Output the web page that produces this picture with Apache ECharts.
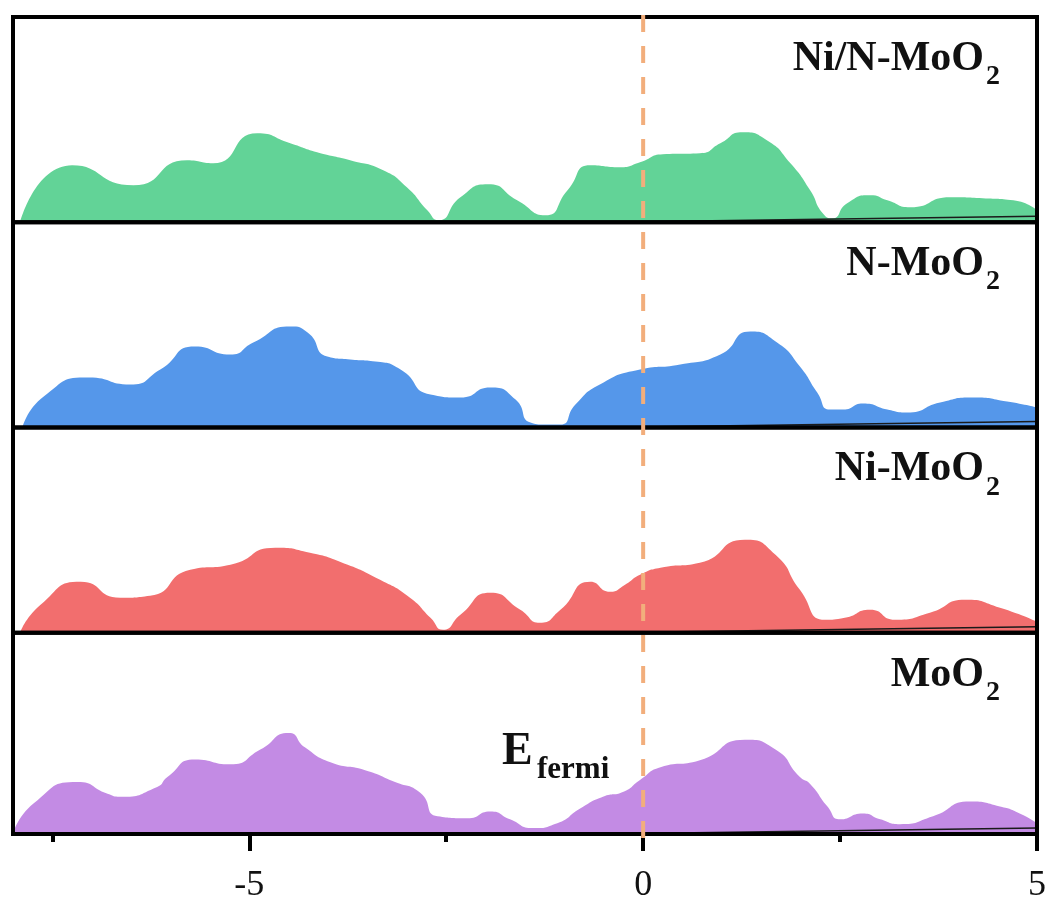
<!DOCTYPE html>
<html>
<head>
<meta charset="utf-8">
<script src="https://cdn.jsdelivr.net/npm/echarts@6/dist/echarts.min.js"></script>
<style>html,body{margin:0;padding:0;background:#fff;}#c{width:1051px;height:904px;}</style>
</head>
<body>
<div id="c"></div>
<script>
// Energy (eV) and DOS values (arbitrary units) for each system
const niNMoO2 = [[-7.91,0],[-7.25,57],[-6.47,37],[-5.79,62],[-5.46,59],[-4.90,89],[-4.48,79],[-4.14,70],[-3.72,62],[-3.30,52],[-3.00,35],[-2.74,12],[-2.60,2],[-2.32,25],[-1.97,38],[-1.60,22],[-1.24,7],[-0.96,32],[-0.67,57],[-0.29,55],[-0.04,60],[0.25,68],[0.72,69],[0.98,79],[1.26,90],[1.57,82],[1.87,59],[2.12,32],[2.28,9],[2.40,4],[2.59,19],[2.88,27],[3.10,22],[3.39,15],[3.90,25],[4.31,24],[4.70,22],[5.0,12]];
const nMoO2 = [[-7.88,0],[-7.61,31],[-7.04,50],[-6.51,43],[-6.13,58],[-5.69,81],[-5.24,73],[-4.95,85],[-4.48,101],[-4.26,95],[-4.01,71],[-3.72,68],[-3.40,66],[-3.08,58],[-2.70,33],[-2.32,30],[-1.94,40],[-1.62,28],[-1.43,5],[-1.24,3],[-1.05,3],[-0.86,23],[-0.55,43],[-0.04,58],[0.47,63],[0.98,73],[1.36,96],[1.70,85],[1.99,61],[2.21,35],[2.37,18],[2.54,18],[2.79,24],[3.10,18],[3.35,15],[3.77,25],[4.19,30],[4.62,26],[5.0,20]];
const niMoO2 = [[-7.91,0],[-7.65,28],[-7.14,51],[-6.64,35],[-6.26,37],[-5.75,63],[-5.24,68],[-4.67,85],[-4.23,80],[-3.85,71],[-3.34,53],[-2.96,35],[-2.70,15],[-2.54,3],[-2.32,18],[-1.94,40],[-1.56,23],[-1.31,10],[-1.05,23],[-0.67,51],[-0.42,41],[-0.23,48],[-0.04,58],[0.22,65],[0.72,70],[1.29,93],[1.68,78],[1.99,43],[2.31,13],[2.56,15],[2.88,23],[3.20,13],[3.64,20],[4.09,33],[4.53,25],[5.0,11]];
const moO2 = [[-8.0,0],[-7.74,31],[-7.18,53],[-6.80,41],[-6.64,38],[-6.17,48],[-6.04,58],[-5.69,76],[-5.24,71],[-4.86,86],[-4.50,103],[-4.29,88],[-3.97,73],[-3.53,65],[-3.15,53],[-2.83,42],[-2.61,18],[-2.23,16],[-1.94,23],[-1.69,15],[-1.40,6],[-1.09,11],[-0.80,26],[-0.51,38],[-0.25,43],[-0.04,55],[0.22,68],[0.72,75],[1.29,96],[1.68,86],[1.99,58],[2.12,51],[2.34,28],[2.50,15],[2.79,21],[3.01,15],[3.26,10],[3.68,18],[4.15,33],[4.53,28],[4.78,21],[5.0,11]];
const baseDrift = [[-0.5,0],[5,6]];
const panelNames = ['Ni/N-MoO', 'N-MoO', 'Ni-MoO', 'MoO'];
const panelSub = '2';
const panelData = [niNMoO2, nMoO2, niMoO2, moO2];
const panelColors = ['#62D397', '#5597EA', '#F26E6E', '#C38BE4'];
const majorTicks = [-5, 0, 5];
const minorTicks = [-7.5, -2.5, 2.5];
const xMin = -8, xMax = 5, yMax = 205;
const fermiLine = [[0,0],[0,1]];

const chart = echarts.init(document.getElementById('c'));
const L = 13, R = 14, T0 = 17, PH = 205.25;
const serif = '"Liberation Serif","Times New Roman",serif';
const grids = [], xAxes = [], yAxes = [], series = [], graphics = [];
for (let i = 0; i < 4; i++) {
  grids.push({left: L, right: R, top: T0 + i * PH, height: PH, show: true, borderColor: '#000', borderWidth: 4, backgroundColor: 'transparent', z: 10});
  xAxes.push({type: 'value', gridIndex: i, min: xMin, max: xMax, show: i === 3, position: 'bottom',
    axisLine: {show: false}, splitLine: {show: false},
    axisTick: {show: true, customValues: majorTicks, length: 17, lineStyle: {color: '#000', width: 4}},
    axisLabel: {show: true, customValues: majorTicks, fontFamily: serif, fontSize: 36, color: '#111', margin: 34, showMinLabel: true, showMaxLabel: true}
  });
  yAxes.push({type: 'value', gridIndex: i, min: 0, max: yMax, show: false});
  series.push({type: 'line', xAxisIndex: i, yAxisIndex: i, data: panelData[i], smooth: 0.6, symbol: 'none',
    lineStyle: {width: 0}, areaStyle: {color: panelColors[i], opacity: 1}, z: 2});
  series.push({type: 'line', xAxisIndex: i, yAxisIndex: i, data: baseDrift, symbol: 'none',
    lineStyle: {width: 1.5, color: '#1a1a1a'}, z: 3});
  const baseY = T0 + i * PH + 56;
  graphics.push({type: 'text', z: 100, style: {text: panelNames[i], x: 984, y: baseY - 14, textAlign: 'right', textVerticalAlign: 'middle', font: 'bold 42px ' + serif, fill: '#111'}});
  graphics.push({type: 'text', z: 100, style: {text: panelSub, x: 986, y: baseY + 4, textAlign: 'left', textVerticalAlign: 'middle', font: 'bold 28px ' + serif, fill: '#111'}});
}
// minor ticks on the bottom panel
xAxes.push({type: 'value', gridIndex: 3, min: xMin, max: xMax, position: 'bottom', offset: 0,
  axisLine: {show: false}, splitLine: {show: false}, axisLabel: {show: false},
  axisTick: {show: true, customValues: minorTicks, length: 8, lineStyle: {color: '#000', width: 4}}});
// full-height grid for the Fermi level line
grids.push({left: L, right: R, top: 2, bottom: 904 - 838, show: false});
xAxes.push({type: 'value', gridIndex: 4, min: xMin, max: xMax, show: false});
yAxes.push({type: 'value', gridIndex: 4, min: 0, max: 1, show: false});
series.push({type: 'line', xAxisIndex: 5, yAxisIndex: 4, data: fermiLine, symbol: 'none',
  lineStyle: {color: '#F2AE7C', width: 4, type: [17, 14]}, z: 20});
graphics.push({type: 'text', z: 100, style: {text: 'E', x: 502, y: 752, textAlign: 'left', textVerticalAlign: 'middle', font: 'bold 46px ' + serif, fill: '#111'}});
graphics.push({type: 'text', z: 100, style: {text: 'fermi', x: 537, y: 770, textAlign: 'left', textVerticalAlign: 'middle', font: 'bold 31px ' + serif, fill: '#111'}});

chart.setOption({animation: false, grid: grids, xAxis: xAxes, yAxis: yAxes, series: series, graphic: graphics});
</script>
</body>
</html>
